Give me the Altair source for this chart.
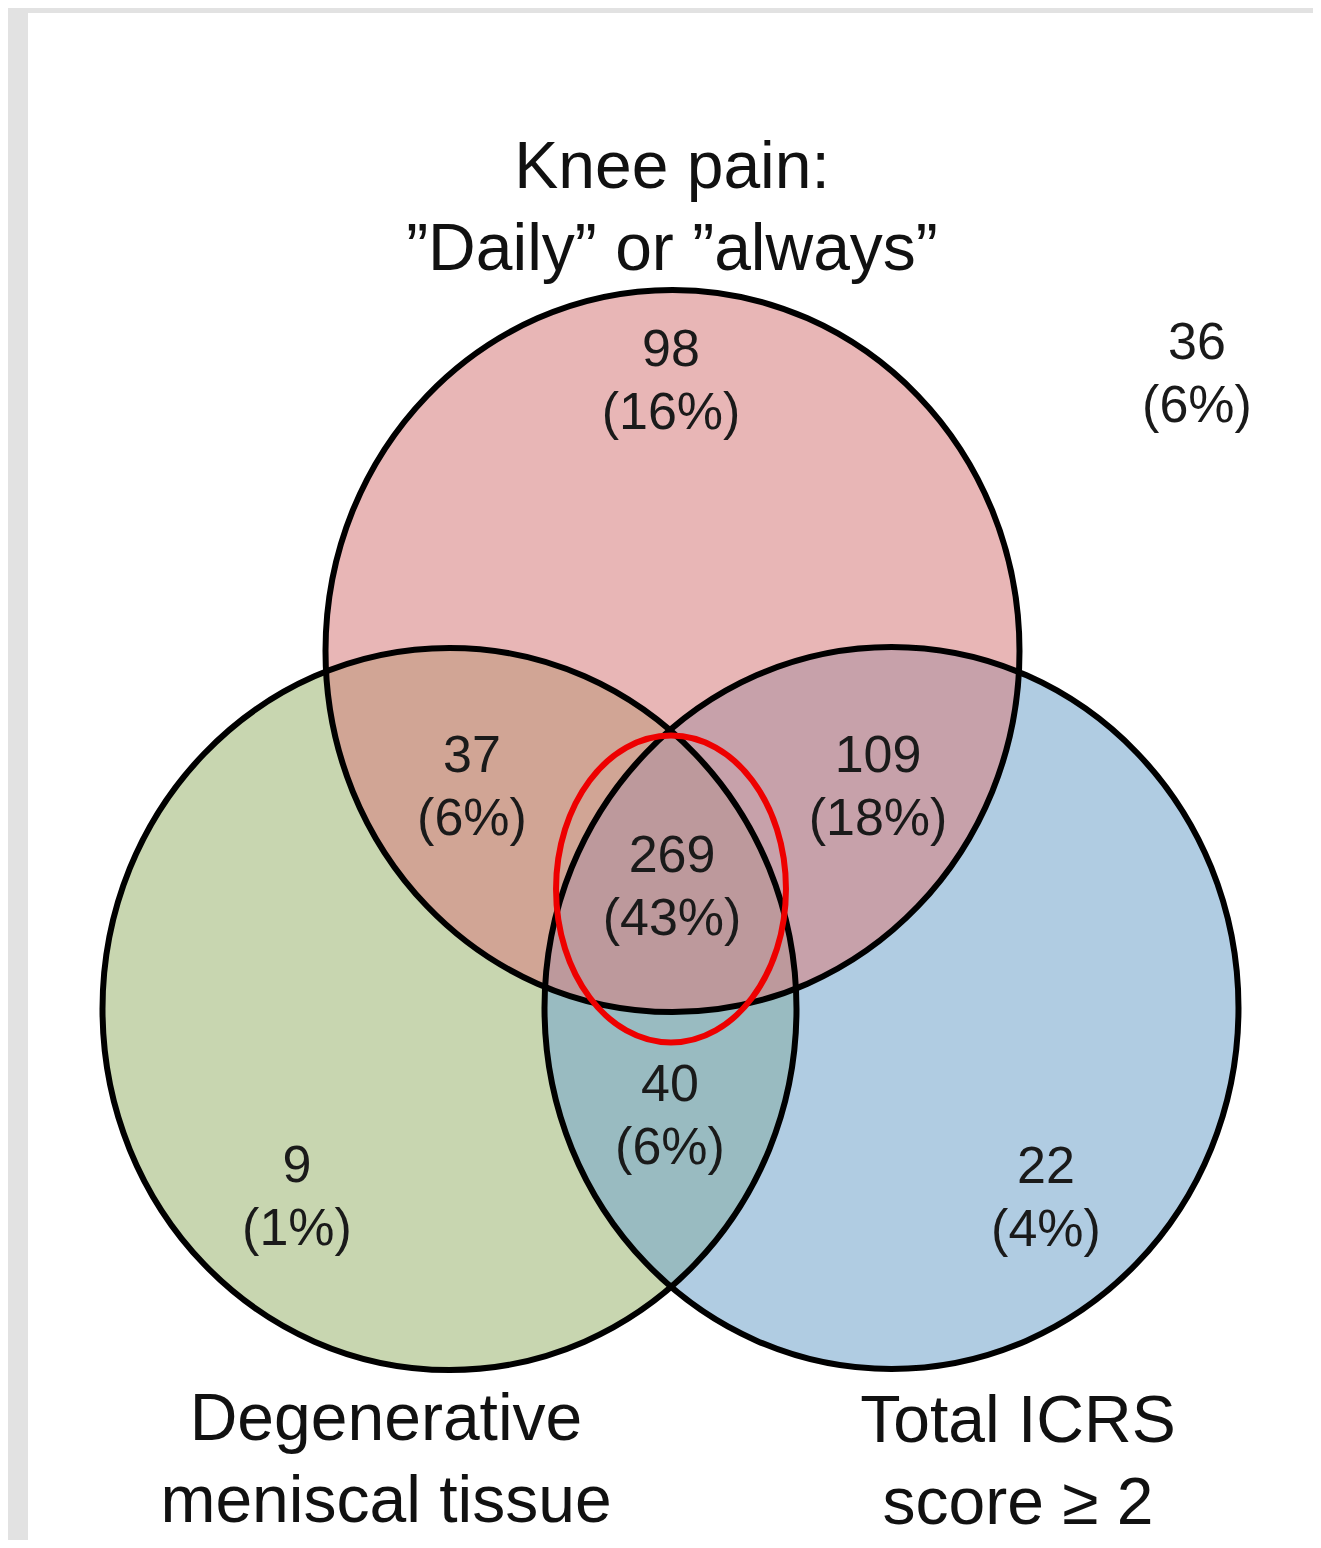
import altair as alt
import pandas as pd

# ---- data -------------------------------------------------------------
set_names = ["Degenerative meniscal tissue", "Total ICRS score ≥ 2", "Knee pain"]
set_cx = [449.5, 891.5, 672.5]
set_cy = [1009, 1008, 651]
set_colors = ["#a0b877", "#77a7cd", "#d78181"]

region_counts = ["98", "37", "109", "269", "40", "9", "22", "36"]
region_pcts = ["(16%)", "(6%)", "(18%)", "(43%)", "(6%)", "(1%)", "(4%)", "(6%)"]
region_x = [671, 472, 878, 672, 670, 297, 1046, 1197]
region_y = [366, 772, 772, 872, 1101, 1182, 1183, 359]

set_labels = ["Knee pain:\n”Daily” or ”always”",
              "Degenerative\nmeniscal tissue",
              "Total ICRS\nscore ≥ 2"]
set_label_x = [672, 386, 1018]
set_label_y = [188, 1440, 1442]

highlight_cx = [671]
highlight_cy = [889]

# ---- tables -----------------------------------------------------------
sets = pd.DataFrame({"name": set_names, "x": set_cx, "y": set_cy})
regions = pd.DataFrame({
    "label": [c + "\n" + p for c, p in zip(region_counts, region_pcts)],
    "x": region_x, "y": region_y})
labels = pd.DataFrame({"label": set_labels, "x": set_label_x, "y": set_label_y})
highlight = pd.DataFrame({"x": highlight_cx, "y": highlight_cy})
frame = pd.DataFrame({"x": [8, 8], "x2": [1313, 28], "y": [8, 8], "y2": [13, 1540]})

W, H = 1305, 1532
xs = alt.Scale(domain=[8, 8 + W], nice=False, zero=False)
ys = alt.Scale(domain=[8, 8 + H], nice=False, zero=False, reverse=True)
X = alt.X("x:Q", scale=xs, axis=None)
Y = alt.Y("y:Q", scale=ys, axis=None)

ELL = "M -0.9612 0 A 0.9612 1 0 1 1 0.9612 0 A 0.9612 1 0 1 1 -0.9612 0 Z"
ELL_SIZE = (2 * 361) ** 2
RED = "M -0.749 0 A 0.749 1 0 1 1 0.749 0 A 0.749 1 0 1 1 -0.749 0 Z"
RED_SIZE = (2 * 153.5) ** 2

frame_layer = alt.Chart(frame).mark_rect(color="#e2e2e2").encode(
    x=X, x2="x2:Q", y=Y, y2="y2:Q")

fills = alt.Chart(sets).mark_point(
    shape=ELL, size=ELL_SIZE, filled=True, opacity=0.58, strokeWidth=0
).encode(
    x=X, y=Y,
    color=alt.Color("name:N", scale=alt.Scale(domain=set_names, range=set_colors), legend=None),
)

outlines = alt.Chart(sets).mark_point(
    shape=ELL, size=ELL_SIZE, filled=False, color="#000000", strokeWidth=6, opacity=1
).encode(x=X, y=Y)

red = alt.Chart(highlight).mark_point(
    shape=RED, size=RED_SIZE, filled=False, color="#ee0000", strokeWidth=6, opacity=1
).encode(x=X, y=Y)

nums = alt.Chart(regions).mark_text(
    font="Liberation Sans", fontSize=52, color="#1a1a1a", align="center",
    baseline="alphabetic", lineBreak="\n", lineHeight=63
).encode(x=X, y=Y, text="label:N")

titles = alt.Chart(labels).mark_text(
    font="Liberation Sans", fontSize=66, color="#111111", align="center",
    baseline="alphabetic", lineBreak="\n", lineHeight=82
).encode(x=X, y=Y, text="label:N")

chart = alt.layer(frame_layer, fills, outlines, red, nums, titles).properties(
    width=W, height=H, padding=0, autosize=alt.AutoSizeParams(type="none")
).configure_view(stroke=None).configure(background="white")

chart.save("out.html", embed_options={"renderer": "svg", "actions": False})
